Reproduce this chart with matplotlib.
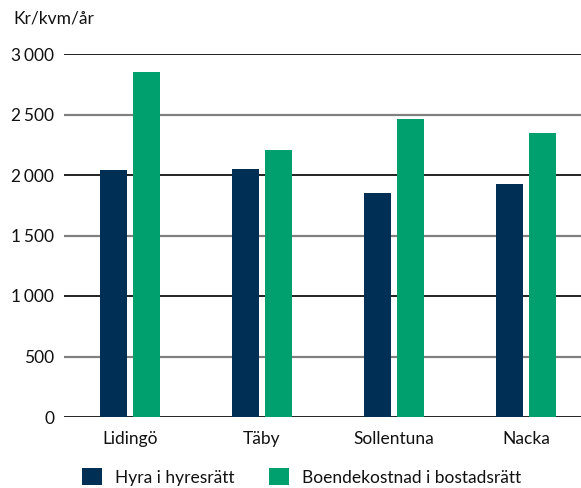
import matplotlib
matplotlib.use("Agg")
import matplotlib.pyplot as plt
import numpy as np

plt.rcParams['font.family'] = ['Lato', 'DejaVu Sans']

categories = ["Lidingö", "Täby", "Sollentuna", "Nacka"]
hyra = [2040, 2050, 1850, 1925]
boende = [2850, 2210, 2460, 2350]
series_names = ["Hyra i hyresrätt", "Boendekostnad i bostadsrätt"]
yticks = [0, 500, 1000, 1500, 2000, 2500, 3000]
ytick_labels = ["0", "500", "1\u2006000", "1\u2006500", "2\u2006000", "2\u2006500", "3\u2006000"]

navy = "#002f55"
green = "#00a06e"
FS = 12.5

W, H = 581, 488
fig = plt.figure(figsize=(W / 100, H / 100), dpi=100)
ax = fig.add_axes([64 / W, 1 - 417 / H, 1 - 64 / W, (417 - 54) / H])

x = np.arange(len(categories))
bw = 27 / 132
off = 16.5 / 132
b1 = ax.bar(x - off, hyra, width=bw, color=navy, label=series_names[0], zorder=3)
b2 = ax.bar(x + off, boende, width=bw, color=green, label=series_names[1], zorder=3)

for v in yticks:
    if v % 1000 == 0:
        ax.axhline(v, color="#111111", lw=1.3, zorder=2)
    else:
        ax.axhline(v, color="#808080", lw=1.6, zorder=2)

ax.set_ylim(0, 3000)
ax.set_xlim(-0.5, (581 - 130) / 132)
ax.set_yticks(yticks)
ax.set_yticklabels(ytick_labels)
ax.set_xticks(x)
ax.set_xticklabels(categories)
ax.tick_params(axis='both', length=0, labelsize=FS, colors="#111111")
ax.tick_params(axis='y', pad=7)
ax.tick_params(axis='x', pad=10)
for s in ax.spines.values():
    s.set_visible(False)

fig.text(13 / W, 1 - 18 / H, "Kr/kvm/år", fontsize=FS, color="#111111", va="center", ha="left")

leg = fig.legend(handles=[b1, b2], loc="center left", bbox_to_anchor=(82 / W, 1 - 477 / H),
                 ncol=2, frameon=False, fontsize=FS, handlelength=1.15, handleheight=1.15,
                 handletextpad=0.75, columnspacing=2.0, borderaxespad=0, borderpad=0,
                 labelcolor="#111111")

fig.savefig("out.png", dpi=100)
